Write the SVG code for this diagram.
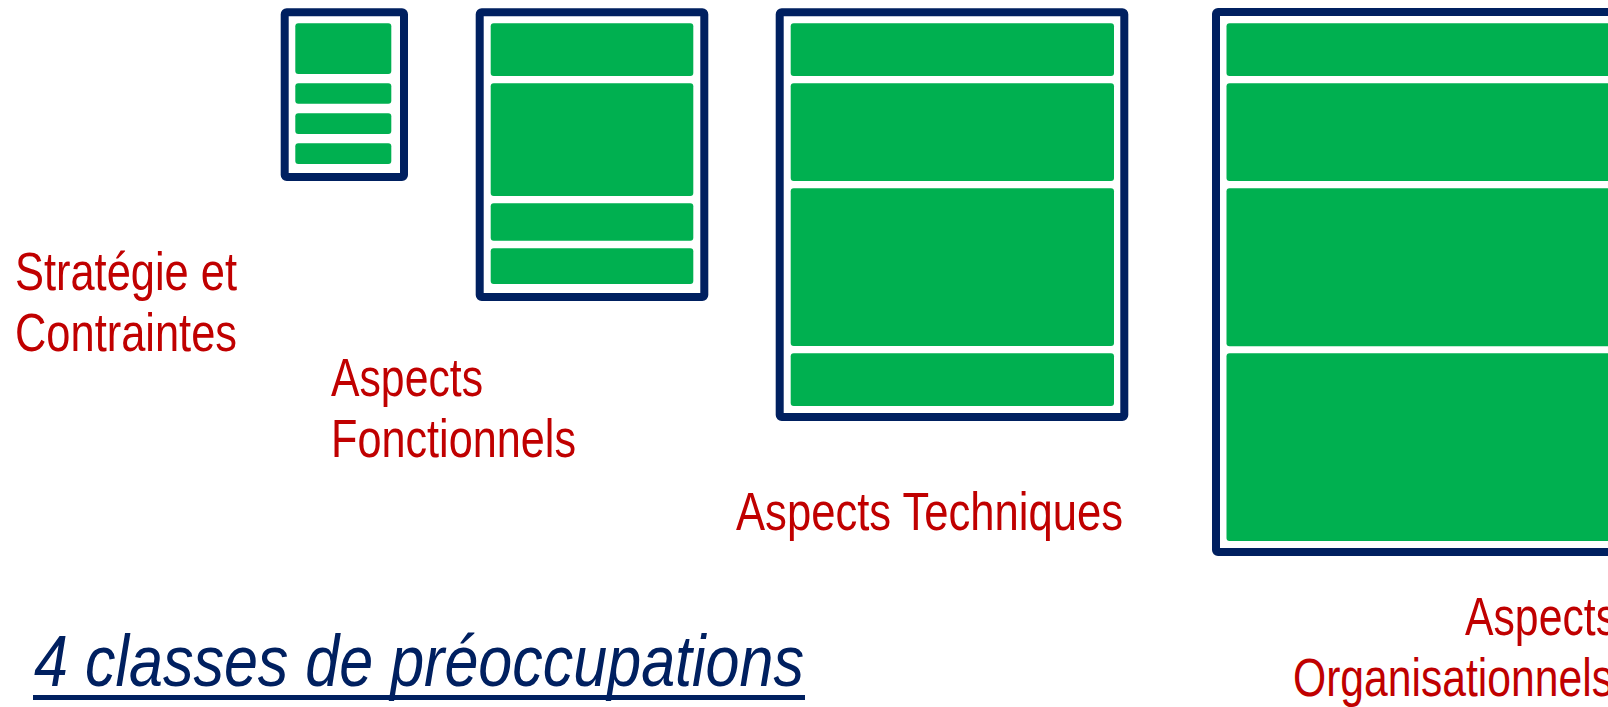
<svg xmlns="http://www.w3.org/2000/svg" width="1608" height="707" viewBox="0 0 1608 707">
<style>
.frame{fill:#ffffff;stroke:#002060;stroke-width:8;stroke-linejoin:round}
.cell{fill:#00B050}
.lbl{font-family:"Liberation Sans",Arial,sans-serif;font-size:54px;fill:#C00000}
.title{font-family:"Liberation Sans",Arial,sans-serif;font-size:73px;font-style:italic;fill:#002060}
</style>
<rect width="1608" height="707" fill="#ffffff"/>
<g id="strategie">
<rect class="frame" x="284.7" y="12.3" width="119.3" height="164.7" rx="2"/>
<rect class="cell" x="295.3" y="23.3" width="96" height="50.7" rx="3"/>
<rect class="cell" x="295.3" y="83.3" width="96" height="20.4" rx="3"/>
<rect class="cell" x="295.3" y="113.3" width="96" height="20.7" rx="3"/>
<rect class="cell" x="295.3" y="143.3" width="96" height="20.7" rx="3"/>
<text class="lbl" x="15" y="290" textLength="222" lengthAdjust="spacingAndGlyphs">Stratégie et</text>
<text class="lbl" x="15" y="351" textLength="222" lengthAdjust="spacingAndGlyphs">Contraintes</text>
</g>
<g id="fonctionnels">
<rect class="frame" x="479.7" y="12.3" width="224.6" height="284.7" rx="2"/>
<rect class="cell" x="490.7" y="23.3" width="202.6" height="52.7" rx="3"/>
<rect class="cell" x="490.7" y="83.3" width="202.6" height="112.7" rx="3"/>
<rect class="cell" x="490.7" y="203.3" width="202.6" height="37.4" rx="3"/>
<rect class="cell" x="490.7" y="248.3" width="202.6" height="35.7" rx="3"/>
<text class="lbl" x="331" y="396" textLength="152" lengthAdjust="spacingAndGlyphs">Aspects</text>
<text class="lbl" x="331" y="457" textLength="245" lengthAdjust="spacingAndGlyphs">Fonctionnels</text>
</g>
<g id="techniques">
<rect class="frame" x="779.7" y="12.3" width="344.6" height="404.7" rx="2"/>
<rect class="cell" x="790.7" y="23.3" width="323.3" height="52.7" rx="3"/>
<rect class="cell" x="790.7" y="83.3" width="323.3" height="97.7" rx="3"/>
<rect class="cell" x="790.7" y="188.3" width="323.3" height="157.7" rx="3"/>
<rect class="cell" x="790.7" y="353.3" width="323.3" height="52.7" rx="3"/>
<text class="lbl" x="736" y="530" textLength="387" lengthAdjust="spacingAndGlyphs">Aspects Techniques</text>
</g>
<g id="organisationnels">
<rect class="frame" x="1216" y="12" width="450" height="540" rx="2"/>
<rect class="cell" x="1226.5" y="23.3" width="420" height="52.7" rx="3"/>
<rect class="cell" x="1226.5" y="83.3" width="420" height="97.7" rx="3"/>
<rect class="cell" x="1226.5" y="188.3" width="420" height="158" rx="3"/>
<rect class="cell" x="1226.5" y="353.3" width="420" height="187.7" rx="3"/>
<text class="lbl" x="1465" y="635" textLength="152" lengthAdjust="spacingAndGlyphs">Aspects</text>
<text class="lbl" x="1293" y="696" textLength="320" lengthAdjust="spacingAndGlyphs">Organisationnels</text>
</g>
<g id="title">
<text class="title" x="34" y="686" textLength="770" lengthAdjust="spacingAndGlyphs">4 classes de préoccupations</text>
<rect x="33" y="695" width="772" height="5" fill="#002060"/>
</g>
<g id="connectors"/>
</svg>
